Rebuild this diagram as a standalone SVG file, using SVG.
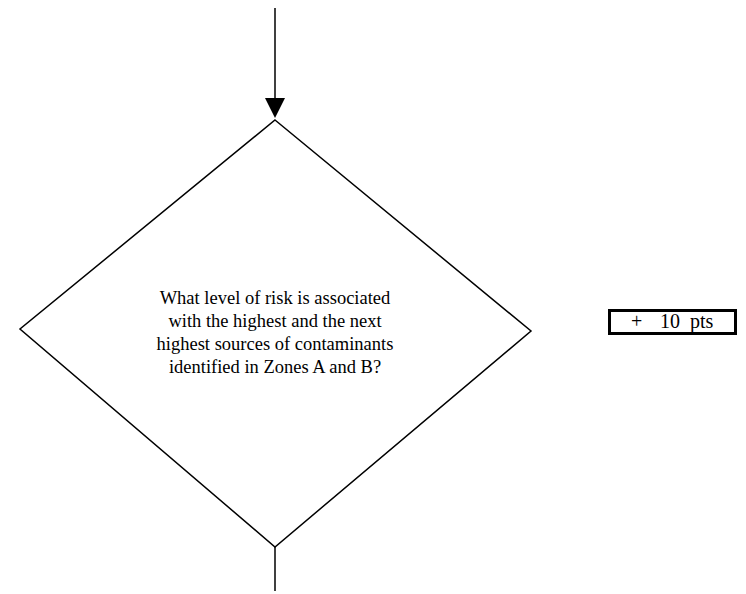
<svg xmlns="http://www.w3.org/2000/svg" width="746" height="594" viewBox="0 0 746 594">
<style>
.ln{stroke:#000;stroke-width:1.5;fill:none}
.t{font-family:"Liberation Serif","Times New Roman",serif;font-size:18.5px;fill:#000}
.b{font-family:"Liberation Serif","Times New Roman",serif;font-size:20px;fill:#000}
</style>
<rect width="746" height="594" fill="#fff"/>
<g id="connectors">
<line class="ln" x1="275" y1="8" x2="275" y2="100"/>
<path d="M265,98 L285,98 L275,118 Z" fill="#000"/>
<line class="ln" x1="275" y1="547" x2="275" y2="591"/>
</g>
<g id="decision">
<polygon class="ln" points="275,120 531,331 275,547 20,329"/>
<text class="t" text-anchor="middle" x="275" y="304">What level of risk is associated</text>
<text class="t" text-anchor="middle" x="275" y="327">with the highest and the next</text>
<text class="t" text-anchor="middle" x="275" y="350">highest sources of contaminants</text>
<text class="t" text-anchor="middle" x="275" y="373">identified in Zones A and B?</text>
</g>
<g id="points">
<rect x="609.5" y="310.5" width="126" height="23" fill="#fff" stroke="#000" stroke-width="3"/>
<text class="b" x="631" y="328">+</text>
<text class="b" x="660" y="328">10</text>
<text class="b" x="690" y="328">pts</text>
</g>
</svg>
